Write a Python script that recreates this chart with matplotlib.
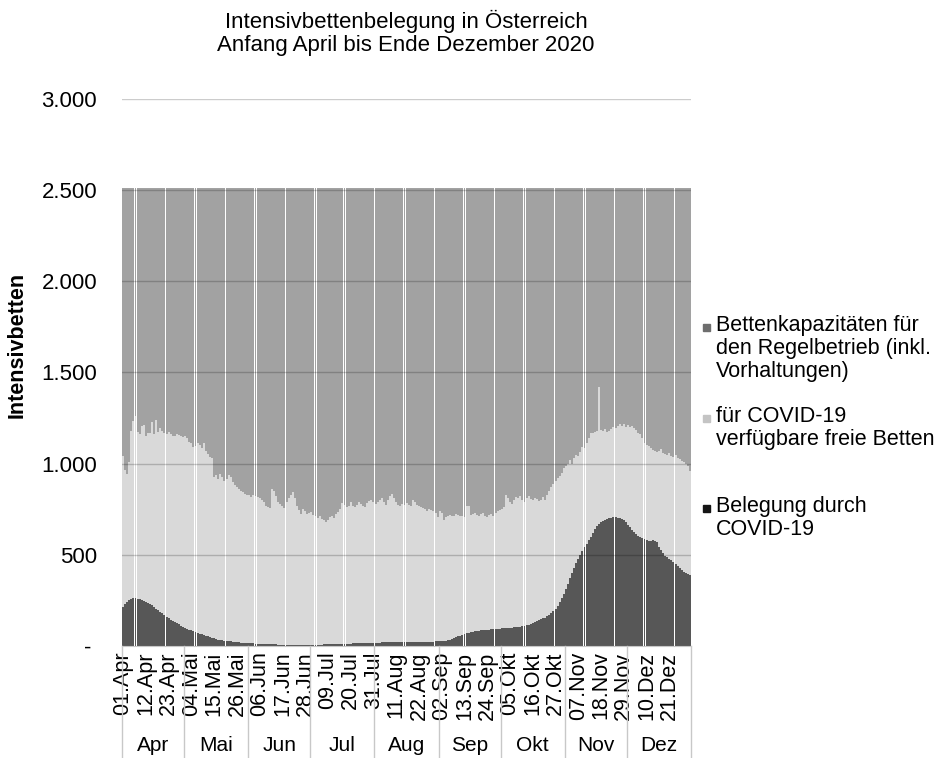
import datetime as dt

import numpy as np
import matplotlib.pyplot as plt
from matplotlib.patches import Rectangle
from matplotlib.transforms import blended_transform_factory

plt.rcParams["font.family"] = ["Liberation Sans", "DejaVu Sans"]

# Monate auf der Kategorienachse
monate = ["Apr", "Mai", "Jun", "Jul", "Aug", "Sep", "Okt", "Nov", "Dez"]
start_datum = dt.date(2020, 4, 1)

# Gesamte Intensivbettenkapazitaet
gesamt_kapazitaet = 2510

# Belegung durch COVID-19, taeglich (Apr - Dez)
belegung = (
    [215, 232, 243, 250, 256, 262, 265, 260, 255, 250, 246, 242, 238, 232, 224,
     214, 205, 196, 188, 179, 170, 161, 152, 145, 138, 131, 125, 119, 112, 106]
    + [100, 95, 90, 86, 82, 77, 72, 68, 63, 60, 56, 52, 48, 45, 42, 38,
       35, 33, 31, 29, 27, 26, 25, 24, 22, 21, 20, 19, 18, 17, 16]
    + [15, 14, 14, 13, 12, 12, 11, 11, 10, 10, 10, 9, 9, 9, 8,
       8, 8, 8, 7, 7, 7, 7, 7, 6, 6, 6, 7, 7, 7, 7]
    + [7, 7, 8, 8, 8, 8, 9, 9, 9, 10, 10, 10, 11, 11, 11, 12,
       12, 12, 13, 13, 14, 14, 14, 15, 15, 15, 16, 16, 17, 17, 18]
    + [18, 19, 19, 20, 20, 21, 21, 22, 22, 22, 23, 23, 23, 22, 22, 22,
       21, 21, 20, 20, 20, 21, 21, 22, 22, 23, 23, 24, 24, 25, 25]
    + [26, 27, 28, 29, 31, 34, 38, 42, 47, 52, 57, 62, 66, 70, 73,
       76, 78, 80, 82, 84, 86, 87, 88, 89, 90, 91, 92, 93, 94, 95]
    + [96, 97, 98, 99, 100, 101, 102, 103, 104, 105, 107, 110, 113, 116, 120,
       125, 130, 136, 142, 148, 152, 155, 162, 172, 180, 190, 205, 220, 240,
       262, 285]
    + [310, 340, 370, 400, 428, 455, 478, 500, 520, 540, 560, 580, 600, 620,
       640, 656, 668, 678, 686, 692, 696, 700, 703, 706, 709, 704, 700, 695,
       688, 678]
    + [665, 650, 635, 625, 615, 605, 598, 592, 585, 580, 578, 575, 582, 578,
       568, 545, 525, 508, 495, 485, 478, 470, 460, 450, 440, 428, 415, 408,
       400, 394, 388]
)

# Fuer COVID-19 vorgesehene Betten (belegt + frei), taeglich
covid_betten = (
    [1040, 965, 945, 1010, 1180, 1235, 1262, 1175, 1160, 1205, 1210, 1150,
     1165, 1170, 1230, 1160, 1240, 1175, 1195, 1180, 1170, 1160, 1175, 1160,
     1150, 1150, 1160, 1155, 1150, 1145]
    + [1150, 1140, 1120, 1110, 1090, 1095, 1110, 1100, 1085, 1115, 1070, 1050,
       1035, 1030, 925, 935, 915, 940, 925, 905, 915, 935, 925, 900, 880, 870,
       860, 850, 845, 835, 830]
    + [825, 815, 830, 820, 815, 810, 800, 790, 770, 760, 755, 860, 850, 820,
       790, 780, 770, 755, 790, 810, 830, 845, 810, 770, 745, 725, 750, 740,
       725, 730]
    + [735, 720, 715, 700, 710, 695, 690, 680, 690, 705, 715, 700, 725, 735,
       750, 785, 775, 760, 770, 790, 770, 760, 775, 790, 780, 765, 760, 785,
       795, 800, 790]
    + [780, 790, 800, 810, 790, 775, 800, 820, 835, 810, 790, 775, 770, 780,
       775, 785, 775, 770, 800, 790, 775, 770, 760, 755, 750, 740, 750, 745,
       740, 730, 705]
    + [740, 730, 690, 705, 715, 720, 710, 715, 725, 720, 715, 710, 705, 765,
       770, 720, 725, 730, 720, 715, 725, 730, 710, 705, 720, 725, 715, 730,
       740, 745]
    + [750, 760, 825, 810, 790, 780, 800, 815, 810, 820, 800, 790, 810, 820,
       805, 800, 810, 805, 795, 800, 815, 800, 830, 850, 870, 890, 905, 920,
       930, 950, 975]
    + [985, 1000, 1020, 995, 1030, 1045, 1040, 1065, 1090, 1085, 1110, 1140,
       1165, 1170, 1175, 1180, 1420, 1185, 1180, 1190, 1175, 1180, 1190, 1200,
       1195, 1205, 1215, 1205, 1215, 1200]
    + [1210, 1200, 1205, 1195, 1185, 1170, 1160, 1140, 1110, 1100, 1095, 1085,
       1075, 1070, 1065, 1070, 1080, 1060, 1050, 1045, 1060, 1040, 1035, 1045,
       1030, 1025, 1015, 1010, 1000, 985, 960]
)

legenden_texte = [
    "Bettenkapazitäten für\nden Regelbetrieb (inkl.\nVorhaltungen)",
    "für COVID-19\nverfügbare freie Betten",
    "Belegung durch\nCOVID-19",
]

FARBE_REGEL = "#a2a2a2"
FARBE_FREI = "#d9d9d9"
FARBE_COVID = "#575757"
LEGENDE_FARBEN = ["#6e6e6e", "#c4c4c4", "#151515"]
BALKENBREITE = 0.95


def tausender(v):
    """Formats axis values like 2.500, zero as a dash."""
    if v == 0:
        return "- "
    return f"{v:,}".replace(",", ".")


def main():
    beleg = np.array(belegung)
    frei = np.array(covid_betten) - beleg
    regel = gesamt_kapazitaet - np.array(covid_betten)
    tage = np.arange(len(beleg))
    datum = [start_datum + dt.timedelta(days=int(t)) for t in tage]

    fig = plt.figure(figsize=(9.41, 7.58), dpi=100)
    ax = fig.add_axes([0.1297, 0.1478, 0.6047, 0.722])

    # Stacked daily bars
    ax.bar(tage, beleg, width=BALKENBREITE, color=FARBE_COVID, linewidth=0,
           zorder=2)
    ax.bar(tage, frei, bottom=beleg, width=BALKENBREITE, color=FARBE_FREI,
           linewidth=0, zorder=2)
    ax.bar(tage, regel, bottom=beleg + frei, width=BALKENBREITE,
           color=FARBE_REGEL, linewidth=0, zorder=2)

    ax.set_xlim(-0.5, len(tage) - 0.5)
    ax.set_ylim(0, 3000)
    yticks = list(range(0, 3001, 500))
    ax.set_yticks(yticks)
    ax.set_yticklabels([tausender(v) for v in yticks])
    for y in yticks[1:]:
        ax.axhline(y, color="black", alpha=0.2, lw=1, zorder=3)

    for side in ["top", "right", "left"]:
        ax.spines[side].set_visible(False)
    ax.spines["bottom"].set_color("#c8c8c8")
    ax.tick_params(axis="y", length=0, pad=18, labelsize=16)
    ax.tick_params(axis="x", length=0, pad=4, labelsize=15.5)

    # Day labels every 11 days
    ticks = tage[::11]
    ax.set_xticks(ticks)
    ax.set_xticklabels(
        [f"{datum[t].day:02d}.{monate[datum[t].month - 4]}" for t in ticks],
        rotation=90, va="top", ha="center")

    # Month row below the day labels
    trans = blended_transform_factory(ax.transData, ax.transAxes)
    grenzen = [0]
    for t in tage[1:]:
        if datum[t].day == 1:
            grenzen.append(t)
    grenzen.append(len(tage))
    for g in grenzen:
        ax.plot([g - 0.5, g - 0.5], [0, -0.205], transform=trans,
                color="#c8c8c8", lw=1, clip_on=False)
    for i, name in enumerate(monate):
        mitte = (grenzen[i] + grenzen[i + 1]) / 2 - 0.5
        ax.text(mitte, -0.181, name, transform=trans, ha="center",
                va="center", fontsize=15)

    fig.text(17 / 941, 1 - 345 / 758, "Intensivbetten", rotation=90,
             ha="center", va="center", fontsize=15.5, fontweight="bold")

    fig.text(406 / 941, 1 - 21 / 758, "Intensivbettenbelegung in Österreich",
             ha="center", va="center", fontsize=16)
    fig.text(406 / 941, 1 - 46 / 758, "Anfang April bis Ende Dezember 2020",
             ha="center", va="center", fontsize=16)

    # Legend drawn by hand on the right
    legende_y = [327, 418, 508]
    for text, farbe, y in zip(legenden_texte, LEGENDE_FARBEN, legende_y):
        fig.patches.append(Rectangle(
            ((706 - 3.5) / 941, 1 - (y + 3.5) / 758), 7 / 941, 7 / 758,
            transform=fig.transFigure, color=farbe, figure=fig))
        fig.text(716 / 941, 1 - (y - 12) / 758, text, ha="left", va="top",
                 fontsize=15.5, linespacing=1.12)

    fig.savefig("out.png", dpi=100)


if __name__ == "__main__":
    main()
